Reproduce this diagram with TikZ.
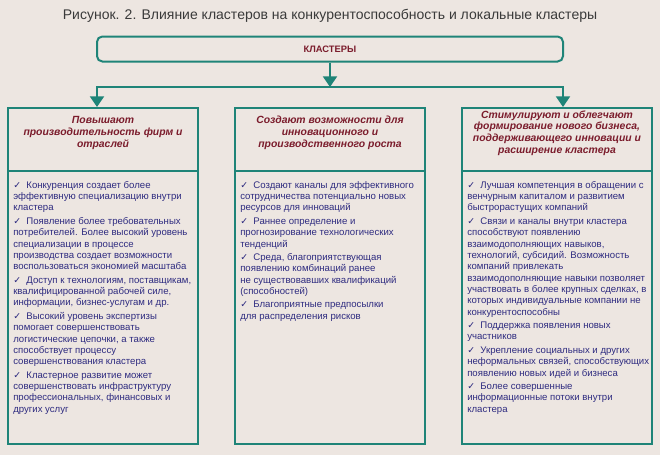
\documentclass[tikz,border=0pt]{standalone}
\usepackage{fontspec}
\setmainfont{Liberation Sans}
\newfontfamily\symfont{DejaVu Sans}
\usepackage{xcolor}
\definecolor{KLbg}{HTML}{EDE6E1}
\definecolor{KLteal}{HTML}{1F8478}
\definecolor{KLred}{HTML}{7B1C2C}
\definecolor{KLtext}{HTML}{2E2B80}
\definecolor{KLtitle}{HTML}{3A3A3A}
\usepackage{tikz}
\usetikzlibrary{arrows.meta, positioning}
\newcommand{\chk}{{\symfont\fontsize{7}{7}\selectfont ✓}\ \ }

\begin{document}
\begin{tikzpicture}[
    x=0.75pt, y=-0.75pt,
    frame/.style={draw=KLteal, line width=1.5pt},
    column/.style={frame, minimum width=142.5pt, minimum height=252pt, inner sep=0pt},
    heading/.style={align=center, text=KLred,
      font=\fontsize{7.8}{8.8}\selectfont\bfseries\itshape},
    bullets/.style={align=left, anchor=north west, text=KLtext, inner sep=0pt,
      font=\fontsize{7.2}{8.5}\selectfont},
    link/.style={draw=KLteal, line width=1.5pt, -{Triangle[length=8pt, width=10.5pt]}}
  ]
    \fill[KLbg] (0,0) rectangle (660,455);
    \useasboundingbox (0,0) rectangle (660,455);
    \node[text=KLtitle, font=\fontsize{10.5}{12}\selectfont] (title) at (330,16)
      {Рисунок. 2. Влияние кластеров на конкурентоспособность и локальные кластеры};
    \node[frame, rounded corners=4pt, minimum width=349.5pt, minimum height=18.75pt,
      text=KLred, font=\fontsize{7}{8}\selectfont\bfseries] (clusters) at (330,49)
      {КЛАСТЕРЫ};
    \coordinate (split) at (330,87);
    \coordinate (splitL) at (97,87);
    \coordinate (splitR) at (563,87);
    \node[column] (prod) at (103,276) {};
    \node[column] (innov) at (330,276) {};
    \node[column] (biz) at (557,276) {};
    \draw[frame] ([yshift=-48pt]prod.north west) -- ([yshift=-48pt]prod.north east);
    \draw[frame] ([yshift=-48pt]innov.north west) -- ([yshift=-48pt]innov.north east);
    \draw[frame] ([yshift=-48pt]biz.north west) -- ([yshift=-48pt]biz.north east);
    \node[heading] (prodHead) at (103,133)
      {Повышают\\производительность фирм и\\отраслей};
    \node[heading] (innovHead) at (330,133)
      {Создают возможности для\\инновационного и\\производственного роста};
    \node[heading] (bizHead) at (557,133)
      {Стимулируют и облегчают\\формирование нового бизнеса,\\поддерживающего инновации и\\расширение кластера};
    \node[bullets] (prodList) at (13,181)
      {\chk Конкуренция создает более\\
       эффективную специализацию внутри\\
       кластера\\[1.6pt]
       \chk Появление более требовательных\\
       потребителей. Более высокий уровень\\
       специализации в процессе\\
       производства создает возможности\\
       воспользоваться экономией масштаба\\[1.6pt]
       \chk Доступ к технологиям, поставщикам,\\
       квалифицированной рабочей силе,\\
       информации, бизнес-услугам и др.\\[1.6pt]
       \chk Высокий уровень экспертизы\\
       помогает совершенствовать\\
       логистические цепочки, а также\\
       способствует процессу\\
       совершенствования кластера\\[1.6pt]
       \chk Кластерное развитие может\\
       совершенствовать инфраструктуру\\
       профессиональных, финансовых и\\
       других услуг};
    \node[bullets] (innovList) at (240,181)
      {\chk Создают каналы для эффективного\\
       сотрудничества потенциально новых\\
       ресурсов для инноваций\\[1.6pt]
       \chk Раннее определение и\\
       прогнозирование технологических\\
       тенденций\\[1.6pt]
       \chk Среда, благоприятствующая\\
       появлению комбинаций ранее\\
       не существовавших квалификаций\\
       (способностей)\\[1.6pt]
       \chk Благоприятные предпосылки\\
       для распределения рисков};
    \node[bullets] (bizList) at (467,181)
      {\chk Лучшая компетенция в обращении с\\
       венчурным капиталом и развитием\\
       быстрорастущих компаний\\[1.6pt]
       \chk Связи и каналы внутри кластера\\
       способствуют появлению\\
       взаимодополняющих навыков,\\
       технологий, субсидий. Возможность\\
       компаний привлекать\\
       взаимодополняющие навыки позволяет\\
       участвовать в более крупных сделках, в\\
       которых индивидуальные компании не\\
       конкурентоспособны\\[1.6pt]
       \chk Поддержка появления новых\\
       участников\\[1.6pt]
       \chk Укрепление социальных и других\\
       неформальных связей, способствующих\\
       появлению новых идей и бизнеса\\[1.6pt]
       \chk Более совершенные\\
       информационные потоки внутри\\
       кластера};
    \draw[link] (clusters) -- (split);
    \draw[frame, line cap=rect] (splitL) -- (splitR);
    \draw[link] (splitL) -- (splitL |- prod.north);
    \draw[link] (splitR) -- (splitR |- biz.north);
  \end{tikzpicture}
\end{document}
